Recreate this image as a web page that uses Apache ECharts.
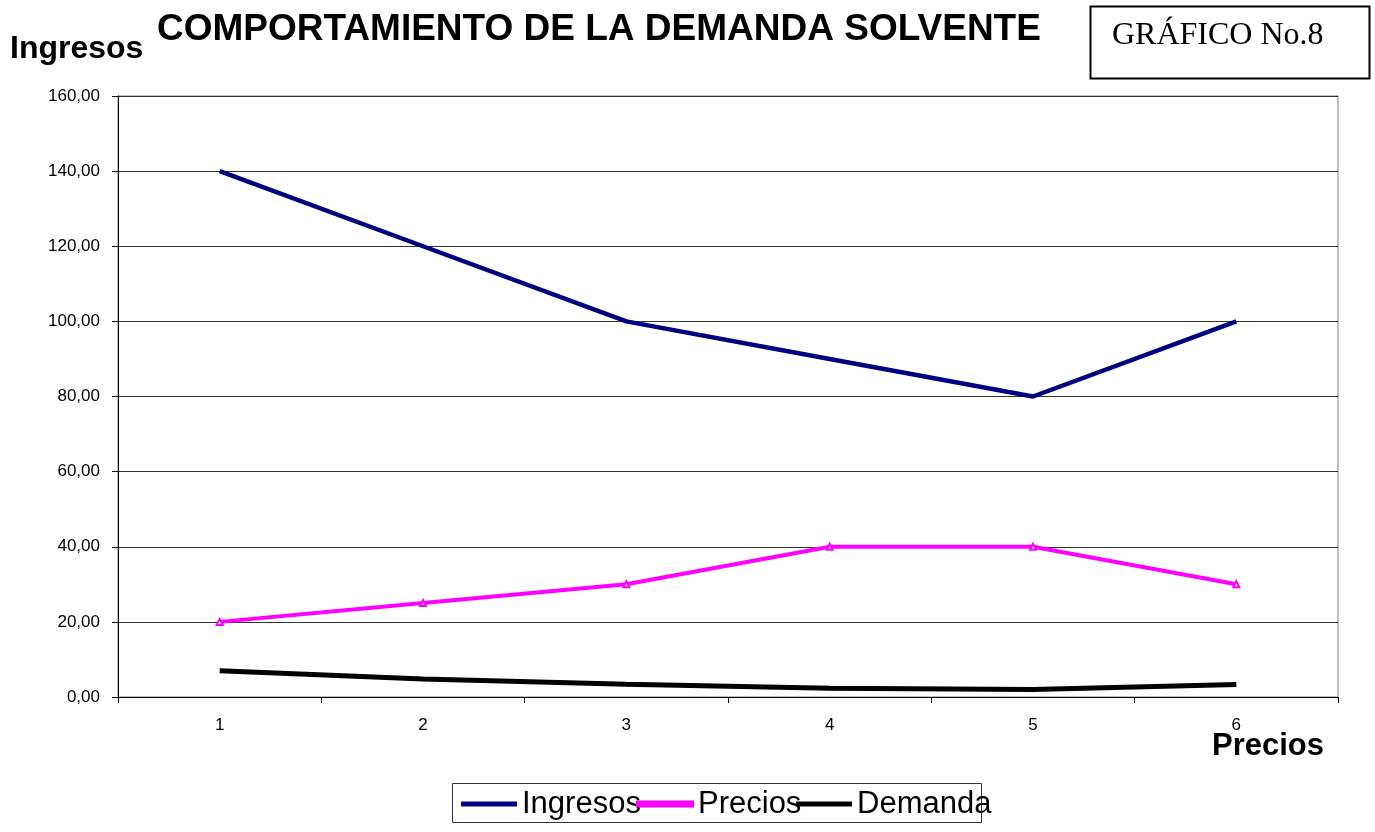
<!DOCTYPE html>
<html>
<head>
<meta charset="utf-8">
<title>Comportamiento de la demanda solvente</title>
<script src="https://cdn.jsdelivr.net/npm/echarts@6/dist/echarts.min.js"></script>
<style>
html, body { margin: 0; padding: 0; background: #fff; }
#chart { width: 1375px; height: 832px; }
</style>
</head>
<body>
<div id="chart"></div>
<script>
// datos
var categorias = ['1', '2', '3', '4', '5', '6'];
var ingresos   = [140, 120, 100, 90, 80, 100];
var precios    = [20, 25, 30, 40, 40, 30];
var demanda    = [7, 4.8, 3.4, 2.3, 2.0, 3.3];
var nombres    = ['Ingresos', 'Precios', 'Demanda'];
var colores    = ['#000080', '#ff00ff', '#000000'];

var fuente = 'Arial, "Liberation Sans", sans-serif';

var app = echarts.init(document.getElementById('chart'));

function leyenda(nombre, x) {
    return {
        data: [nombre],
        left: x,
        top: 786,
        padding: 0,
        icon: 'rect',
        itemWidth: 56,
        itemHeight: 5,
        textStyle: {
            fontFamily: fuente,
            fontSize: 31,
            color: '#000',
            lineHeight: 36
        }
    };
}

var option = {
    animation: false,
    color: colores,
    grid: {
        left: 118,
        right: 37,
        top: 96,
        bottom: 135,
        show: true,
        borderColor: '#808080',
        borderWidth: 1
    },
    legend: [
        leyenda(nombres[0], 461),
        leyenda(nombres[1], 636),
        leyenda(nombres[2], 796)
    ],
    xAxis: {
        type: 'category',
        data: categorias,
        boundaryGap: true,
        axisLine: { lineStyle: { color: '#000', width: 1 } },
        axisTick: { show: true, length: 6, interval: 0, lineStyle: { color: '#000' } },
        axisLabel: {
            interval: 0,
            margin: 20,
            fontFamily: fuente,
            fontSize: 17,
            color: '#000'
        },
        splitLine: { show: false }
    },
    yAxis: {
        type: 'value',
        min: 0,
        max: 160,
        interval: 20,
        axisLine: { show: true, lineStyle: { color: '#000', width: 1 } },
        axisTick: { show: true, length: 6, lineStyle: { color: '#000' } },
        axisLabel: {
            margin: 18,
            fontFamily: fuente,
            fontSize: 17,
            color: '#000',
            formatter: function (v) {
                return v.toFixed(2).replace('.', ',');
            }
        },
        splitLine: { show: true, lineStyle: { color: '#333', width: 1 } }
    },
    series: [{
            name: nombres[0],
            type: 'line',
            data: ingresos,
            symbol: 'none',
            itemStyle: { color: colores[0] },
            lineStyle: { color: colores[0], width: 4.5 }
        },
        {
            name: nombres[1],
            type: 'line',
            data: precios,
            symbol: 'emptyTriangle',
            symbolSize: 6,
            itemStyle: { color: colores[1], borderColor: colores[1], borderWidth: 1.5 },
            lineStyle: { color: colores[1], width: 4 }
        },
        {
            name: nombres[2],
            type: 'line',
            data: demanda,
            symbol: 'none',
            itemStyle: { color: colores[2] },
            lineStyle: { color: colores[2], width: 5 }
        }
    ],
    graphic: [
        // titulo
        {
            type: 'text',
            left: 157,
            top: 11,
            style: {
                text: 'COMPORTAMIENTO DE LA DEMANDA SOLVENTE',
                font: 'bold 37px ' + fuente,
                fill: '#000'
            }
        },
        // nombre eje y
        {
            type: 'text',
            left: 10,
            top: 33,
            style: {
                text: 'Ingresos',
                font: 'bold 32px ' + fuente,
                fill: '#000'
            }
        },
        // nombre eje x
        {
            type: 'text',
            left: 1212,
            top: 731,
            style: {
                text: 'Precios',
                font: 'bold 31px ' + fuente,
                fill: '#000'
            }
        },
        // recuadro grafico No.8
        {
            type: 'rect',
            shape: { x: 1090.5, y: 6.5, width: 279, height: 72 },
            style: { fill: '#fff', stroke: '#000', lineWidth: 2 }
        },
        {
            type: 'text',
            left: 1112,
            top: 20,
            style: {
                text: 'GRÁFICO No.8',
                font: '32px "Liberation Serif", "Times New Roman", serif',
                fill: '#000'
            }
        },
        // recuadro leyenda
        {
            type: 'rect',
            z: -1,
            shape: { x: 452.5, y: 783.5, width: 529, height: 39 },
            style: { fill: '#fff', stroke: '#333', lineWidth: 1 }
        }
    ]
};

app.setOption(option);
</script>
</body>
</html>
